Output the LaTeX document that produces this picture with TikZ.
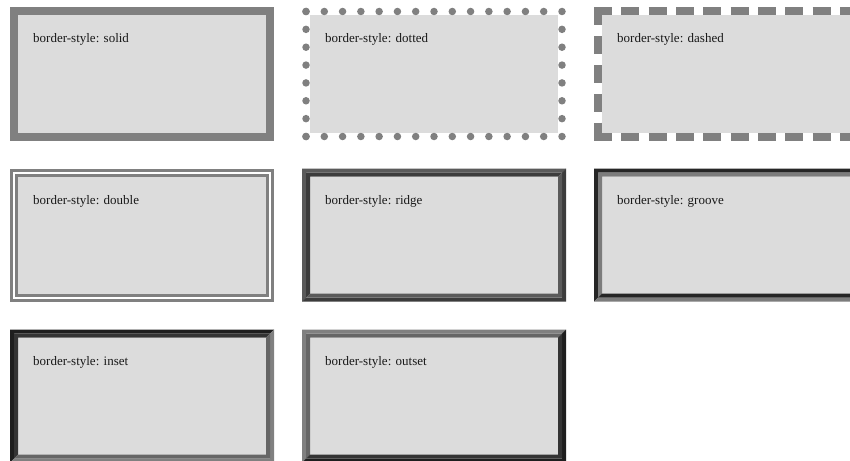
\documentclass[tikz,border=0pt]{standalone}
\usepackage{fontspec}
\setmainfont{Liberation Serif}
\usetikzlibrary{positioning,calc}
\definecolor{panelgray}{HTML}{DCDCDC}
\definecolor{edgegray}{HTML}{808080}
\definecolor{ridgelight}{HTML}{5A5A5A}
\definecolor{ridgedark}{HTML}{3C3C3C}
\definecolor{groovelight}{HTML}{7C7C7C}
\definecolor{groovedark}{HTML}{262626}
\definecolor{shadeblack}{HTML}{1E1E1E}
\definecolor{shadedark}{HTML}{343434}
\definecolor{shademid}{HTML}{666666}
\definecolor{shadelight}{HTML}{808080}
\tikzset{
  panel/.style={rectangle, fill=panelgray, minimum width=248pt, minimum height=117pt, inner sep=0pt, outer sep=0pt},
  caption/.style={anchor=base west, inner sep=0pt, font=\fontsize{13}{15}\selectfont, text=black!90},
  solidline/.style={draw=edgegray, line width=8pt},
  dblline/.style={draw=edgegray, line width=3pt},
  dotline/.style={draw=edgegray, line width=7.5pt, line cap=round},
  dashline/.style={draw=edgegray, line width=8pt},
}
% band of a 3d border: node, inner offset, outer offset, top-left colour, bottom-right colour
\newcommand{\bevel}[5]{%
  \fill[#4] ($(#1.south west)+(-#3,-#3)$) -- ($(#1.north west)+(-#3,#3)$) -- ($(#1.north east)+(#3,#3)$)
    -- ($(#1.north east)+(#2,#2)$) -- ($(#1.north west)+(-#2,#2)$) -- ($(#1.south west)+(-#2,-#2)$) -- cycle;
  \fill[#5] ($(#1.north east)+(#3,#3)$) -- ($(#1.south east)+(#3,-#3)$) -- ($(#1.south west)+(-#3,-#3)$)
    -- ($(#1.south west)+(-#2,-#2)$) -- ($(#1.south east)+(#2,-#2)$) -- ($(#1.north east)+(#2,#2)$) -- cycle;}

\begin{document}
\begin{tikzpicture}[x=1pt, y=1pt, node distance=44pt]
  \useasboundingbox (0,0) rectangle (850,-460);
  \clip (0,0) rectangle (850,-460);
  \fill[white] (0,0) rectangle (850,-460);

  \node[panel] (solid) at (142,-74) {};
  \node[panel, right=of solid] (dotted) {};
  \node[panel, right=of dotted] (dashed) {};
  \node[panel, below=of solid] (double) {};
  \node[panel, right=of double] (ridge) {};
  \node[panel, right=of ridge] (groove) {};
  \node[panel, below=of double] (inset) {};
  \node[panel, right=of inset] (outset) {};

  \node[caption] (solidtxt)  at ($(solid.north west)+(15,-27.5)$)  {border-style: solid};
  \node[caption] (dottedtxt) at ($(dotted.north west)+(15,-27.5)$) {border-style: dotted};
  \node[caption] (dashedtxt) at ($(dashed.north west)+(15,-27.5)$) {border-style: dashed};
  \node[caption] (doubletxt) at ($(double.north west)+(15,-27.5)$) {border-style: double};
  \node[caption] (ridgetxt)  at ($(ridge.north west)+(15,-27.5)$)  {border-style: ridge};
  \node[caption] (groovetxt) at ($(groove.north west)+(15,-27.5)$) {border-style: groove};
  \node[caption] (insettxt)  at ($(inset.north west)+(15,-27.5)$)  {border-style: inset};
  \node[caption] (outsettxt) at ($(outset.north west)+(15,-27.5)$) {border-style: outset};

  \draw[solidline] ($(solid.south west)+(-4,-4)$) rectangle ($(solid.north east)+(4,4)$);

  \draw[dotline, dash pattern=on 0pt off 18.286pt] ($(dotted.north west)+(-4,4)$) -- ($(dotted.north east)+(4,4)$);
  \draw[dotline, dash pattern=on 0pt off 18.286pt] ($(dotted.south west)+(-4,-4)$) -- ($(dotted.south east)+(4,-4)$);
  \draw[dotline, dash pattern=on 0pt off 17.857pt] ($(dotted.north west)+(-4,4)$) -- ($(dotted.south west)+(-4,-4)$);
  \draw[dotline, dash pattern=on 0pt off 17.857pt] ($(dotted.north east)+(4,4)$) -- ($(dotted.south east)+(4,-4)$);

  \draw[dashline, dash pattern=on 18pt off 9.333pt] ($(dashed.north west)+(-8,4)$) -- ($(dashed.north east)+(8,4)$);
  \draw[dashline, dash pattern=on 18pt off 9.333pt] ($(dashed.south west)+(-8,-4)$) -- ($(dashed.south east)+(8,-4)$);
  \draw[dashline, dash pattern=on 18pt off 10.75pt] ($(dashed.north west)+(-4,8)$) -- ($(dashed.south west)+(-4,-8)$);
  \draw[dashline, dash pattern=on 18pt off 10.75pt] ($(dashed.north east)+(4,8)$) -- ($(dashed.south east)+(4,-8)$);

  \draw[dblline] ($(double.south west)+(-6.5,-6.5)$) rectangle ($(double.north east)+(6.5,6.5)$);
  \draw[dblline] ($(double.south west)+(-1.5,-1.5)$) rectangle ($(double.north east)+(1.5,1.5)$);

  \bevel{ridge}{4}{8}{ridgelight}{ridgedark}
  \bevel{ridge}{0}{4}{ridgedark}{ridgelight}
  \bevel{groove}{4}{8}{groovedark}{groovelight}
  \bevel{groove}{0}{4}{groovelight}{groovedark}
  \bevel{inset}{4}{8}{shadeblack}{shadelight}
  \bevel{inset}{0}{4}{shadedark}{shademid}
  \bevel{outset}{4}{8}{shadelight}{shadeblack}
  \bevel{outset}{0}{4}{shademid}{shadedark}
\end{tikzpicture}
\end{document}
